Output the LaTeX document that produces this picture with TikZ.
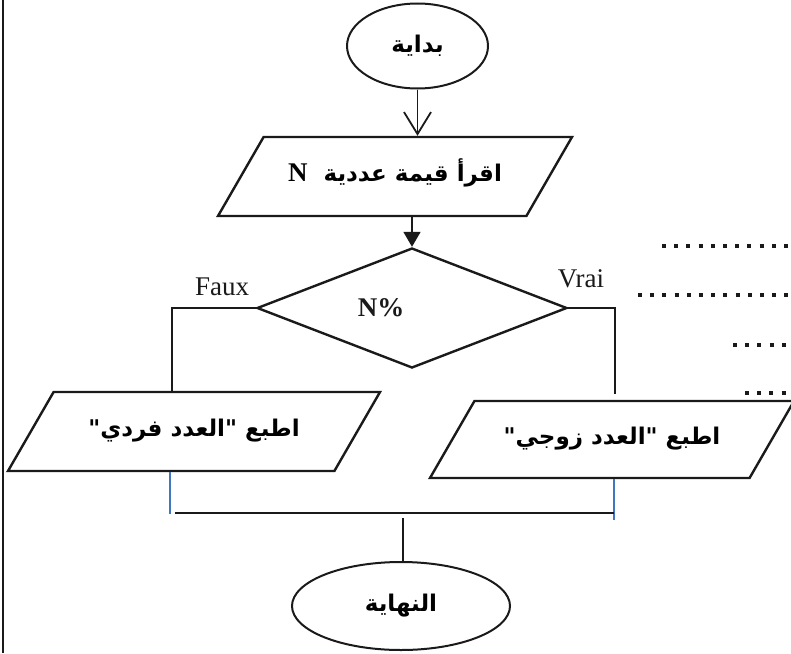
\documentclass[tikz,border=0pt]{standalone}
\usepackage{fontspec}
\setmainfont{Liberation Serif}
\newfontfamily\arabicfont[Script=Arabic]{DejaVu Sans}
\TeXXeTstate=1
\usepackage{tikz}
\usetikzlibrary{shapes.geometric,arrows.meta}
\definecolor{ink}{HTML}{1A1A1A}
\definecolor{joinblue}{HTML}{3F78C0}
\tikzset{
  term/.style={ellipse, draw=ink, line width=2pt, inner sep=0pt,
    font=\arabicfont\bfseries\fontsize{23}{26}\selectfont},
  io/.style={trapezium, trapezium left angle=60, trapezium right angle=120,
    trapezium stretches body, draw=ink, line width=2.4pt,
    inner xsep=0pt, inner ysep=29.5pt, text height=15pt, text depth=5pt,
    font=\arabicfont\bfseries\fontsize{23}{26}\selectfont},
  decision/.style={diamond, draw=ink, line width=2.4pt, inner sep=0pt},
  link/.style={draw=ink, line width=1.8pt},
  joinline/.style={draw=joinblue, line width=1.6pt},
  branch/.style={text=ink, font=\fontsize{27}{30}\selectfont},
  blanks/.style={draw=ink, line width=4pt, dash pattern=on 4pt off 8.2pt}
}

\begin{document}
\begin{tikzpicture}[x=1pt, y=-1pt]
\useasboundingbox (0,0) rectangle (791,653);
\draw[ink, line width=2pt] (3,0) -- (3,653);
% shapes
\node[term, minimum width=141pt, minimum height=85pt] (start) at (417.5,46) {\beginR بداية\endR};
\node[io, minimum width=354pt] (read) at (395,176.5)
  {{\rmfamily\bfseries\fontsize{27}{30}\selectfont N}\hspace{16pt}\beginR اقرأ قيمة عددية\endR};
\node[decision, minimum width=310pt, minimum height=120pt,
  label={[text=ink, font=\bfseries\fontsize{27}{30}\selectfont, xshift=-31pt]center:N\%}] (test) at (412,308) {};
\node[io, minimum width=372pt] (odd) at (194,431.5) {\beginR اطبع "العدد فردي"\endR};
\node[io, minimum width=364pt, inner ysep=28.5pt] (even) at (612,439.5) {\beginR اطبع "العدد زوجي"\endR};
\node[term, minimum width=218pt, minimum height=88pt] (stop) at (401,606) {\beginR النهاية\endR};
% connectors
\draw[link, -{Straight Barb[length=22pt, width=27pt]}] (start.south) -- (start.south |- read.north);
\draw[link, -{Triangle[length=15pt, width=17pt]}] (read.south -| test.north) -- (test.north);
\draw[link] (test.west) -| ([xshift=-22pt]odd.north);
\draw[link, shorten >=6pt] (test.east) -| ([xshift=3pt]even.north);
\node[branch] (faux) at (222,287) {Faux};
\node[branch] (vrai) at (581,279) {Vrai};
\coordinate (jl) at (170,514);
\coordinate (jr) at (614,520);
\coordinate (merge) at (403,513);
\draw[joinline] (odd.south -| jl) -- (jl);
\draw[joinline] (even.south -| jr) -- (jr);
\draw[link] ([xshift=5pt]jl |- merge) -- (jr |- merge);
\draw[link] ([yshift=-5pt]merge) -- (merge |- stop.north);
% blank lines
\draw[blanks] (662,246) -- (790,246);
\draw[blanks] (638,295) -- (790,295);
\draw[blanks] (733,345) -- (790,345);
\draw[blanks] (745,393) -- (790,393);
\end{tikzpicture}
\end{document}
